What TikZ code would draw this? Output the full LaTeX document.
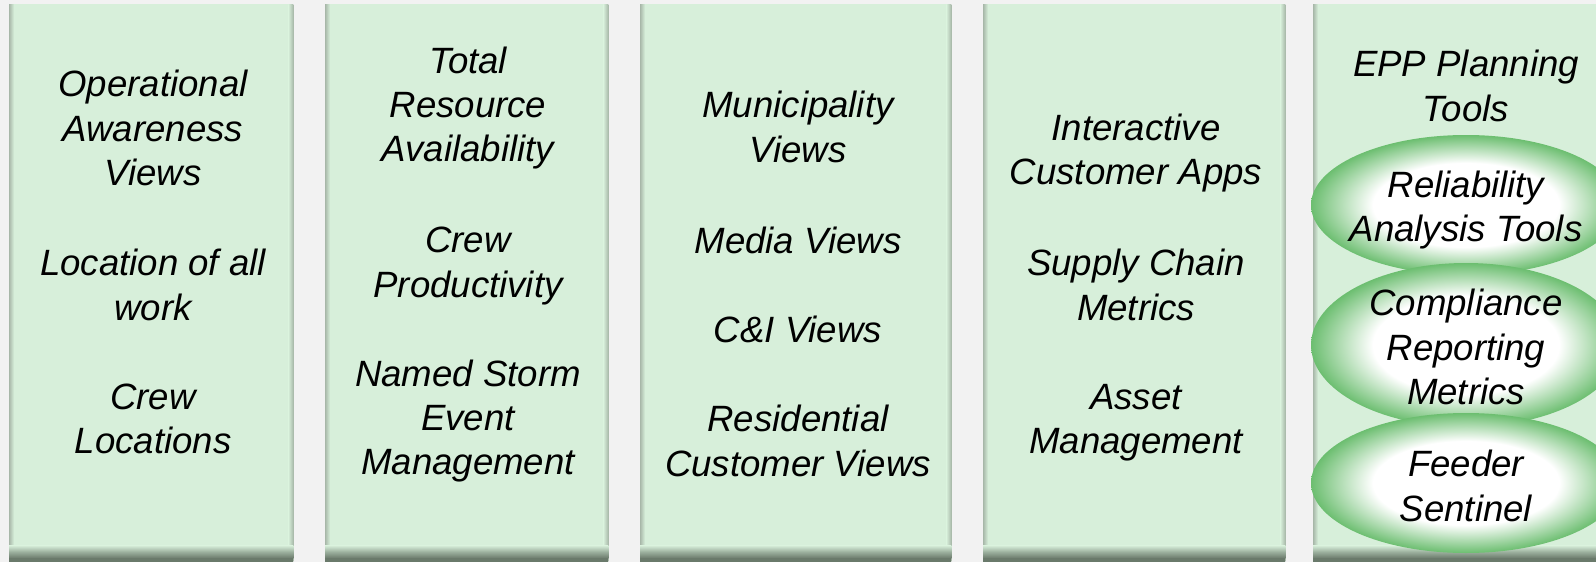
\documentclass[tikz,border=0pt]{standalone}
\usepackage{fontspec}
\setmainfont{Liberation Sans}
\usetikzlibrary{shapes.geometric}

\definecolor{pagebg}{HTML}{F2F2F2}
\definecolor{panelgreen}{HTML}{D7EFDA}
\definecolor{edgegray}{HTML}{A7B7A8}
\definecolor{banddark}{HTML}{6A7A6B}
\definecolor{ovalgreen}{RGB}{108,190,112}

% white core fading out to green at the rim
\pgfdeclareradialshading{ovalshade}{\pgfpoint{0bp}{0bp}}{color(0bp)=(white); color(15bp)=(white); color(25bp)=(ovalgreen); color(50bp)=(ovalgreen)}

\tikzset{
    panel/.style={fill=panelgreen, inner sep=0pt, minimum height=558pt, anchor=north west},
    item/.style={align=center, inner sep=0pt, font=\fontsize{36.6}{44.3}\selectfont\itshape},
    oval/.style={ellipse, shading=ovalshade, inner sep=0pt, minimum width=310pt}
}

\begin{document}
\begin{tikzpicture}[x=1pt, y=-1pt]
    \useasboundingbox (0,0) rectangle (1596,562);
    \clip (0,0) rectangle (1596,562);
    \fill[pagebg] (0,0) rectangle (1596,562);

    % five columns: left edge / width
    \foreach \n/\l/\w in {1/9/284, 2/325/283, 3/640/311, 4/983/302, 5/1313/300} {
        \node[panel, minimum width=\w pt] (p\n) at (\l,4) {};
        % soft side edges
        \shade[left color=edgegray, right color=panelgreen] (p\n.north west) rectangle ([xshift=5pt]p\n.south west);
        \shade[left color=panelgreen, right color=edgegray] ([xshift=-5pt]p\n.north east) rectangle (p\n.south east);
        % dark strip along the bottom
        \shade[top color=panelgreen, bottom color=banddark, middle color=banddark!55!panelgreen]
            ([yshift=17pt]p\n.south west) rectangle ([yshift=4pt]p\n.south east);
        \fill[banddark] ([yshift=4pt]p\n.south west) rectangle (p\n.south east);
    }

    % column 1
    \node[item] (a1) at (153,128) {Operational\\Awareness\\Views};
    \node[item] (a2) at (153,285) {Location of all\\work};
    \node[item] (a3) at (153,419) {Crew\\Locations};

    % column 2
    \node[item] (b1) at (468,108) {Total\\Resource\\Availability};
    \node[item] (b2) at (468,266) {Crew\\Productivity};
    \node[item] (b3) at (468,421) {Named Storm\\Event\\Management};

    % column 3
    \node[item] (c1) at (798,127) {Municipality\\Views};
    \node[item] (c2) at (798,240) {Media Views};
    \node[item] (c3) at (798,329) {C\&I Views};
    \node[item] (c4) at (798,441) {Residential\\Customer Views};

    % column 4
    \node[item] (d1) at (1136,153) {Interactive\\Customer Apps};
    \node[item] (d2) at (1136,285) {Supply Chain\\Metrics};
    \node[item] (d3) at (1136,423) {Asset\\Management};

    % column 5 with the stacked ovals
    \node[item] (e0) at (1466,86) {EPP Planning\\Tools};
    \node[oval, minimum height=140pt] (o1) at (1466,205) {};
    \node[oval, minimum height=164pt] (o2) at (1466,345) {};
    \node[oval, minimum height=140pt] (o3) at (1466,483) {};
    \node[item] (e1) at (1466,210) {Reliability\\Analysis Tools};
    \node[item] (e2) at (1466,347) {Compliance\\Reporting\\Metrics};
    \node[item] (e3) at (1466,486) {Feeder\\Sentinel};
\end{tikzpicture}
\end{document}
